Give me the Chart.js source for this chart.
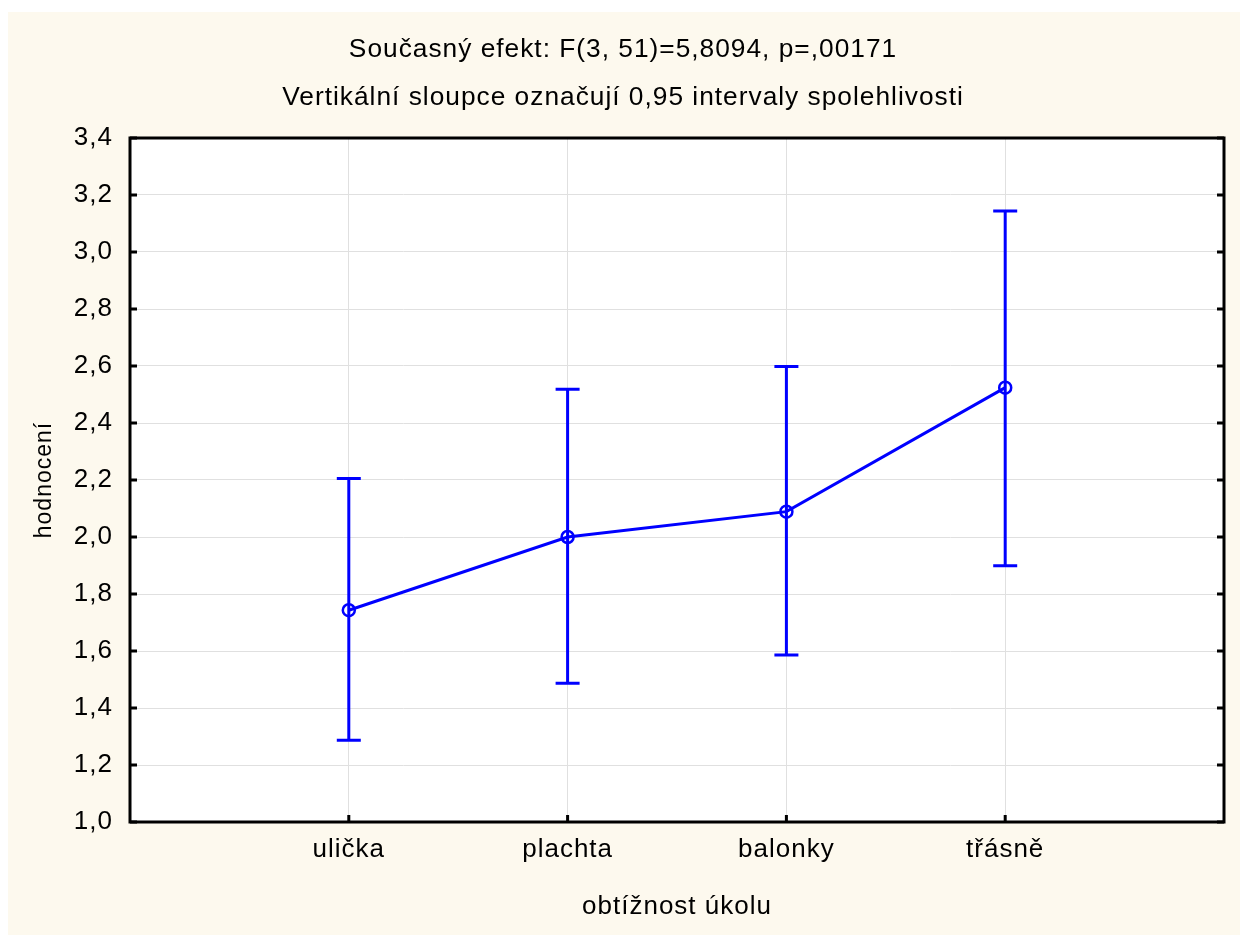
<!DOCTYPE html>
<html>
<head>
<meta charset="utf-8">
<script src="https://cdn.jsdelivr.net/npm/chart.js@4.4.1/dist/chart.umd.min.js"></script>
<style>
  html, body { margin: 0; padding: 0; background: #fff; overflow: hidden; }
  #wrap { width: 1246px; height: 936px; position: relative; }
</style>
</head>
<body>
<div id="wrap"><canvas id="chart"></canvas></div>
<script>
// Category labels and values
const categories = ['ulička', 'plachta', 'balonky', 'třásně'];
const categoryPos = [1, 2, 3, 4];
const means = [1.743, 2.0, 2.089, 2.524];
const ciLower = [1.287, 1.487, 1.586, 1.899];
const ciUpper = [2.205, 2.518, 2.598, 3.144];
const yTickValues = [1.0, 1.2, 1.4, 1.6, 1.8, 2.0, 2.2, 2.4, 2.6, 2.8, 3.0, 3.2, 3.4];

const titleLines = [
    'Současný efekt: F(3, 51)=5,8094, p=,00171',
    'Vertikální sloupce označují 0,95 intervaly spolehlivosti'
];

const BLUE = '#0000ff';
const CREAM = '#fdf9ee';
const SANS = "'Liberation Sans', Arial, sans-serif";

// background, error bars, frame and inward ticks
const decor = {
    id: 'decor',
    beforeUpdate(chart) { chart.ctx.letterSpacing = '1px'; },
    beforeLayout(chart) { chart.ctx.letterSpacing = '1px'; },
    beforeDraw(chart) {
        const { ctx, chartArea: a } = chart;
        ctx.letterSpacing = '1px';
        ctx.save();
        ctx.fillStyle = '#fff';
        ctx.fillRect(0, 0, chart.width, chart.height);
        ctx.fillStyle = CREAM;
        ctx.fillRect(8, 12, 1232, 923);
        ctx.fillStyle = '#fff';
        ctx.fillRect(a.left, a.top, a.right - a.left, a.bottom - a.top);
        ctx.restore();
    },
    afterDatasetsDraw(chart) {
        const { ctx } = chart;
        const xs = chart.scales.x, ys = chart.scales.y;
        ctx.save();
        ctx.strokeStyle = BLUE;
        ctx.lineWidth = 3;
        categoryPos.forEach((p, i) => {
            const x = xs.getPixelForValue(p);
            const top = ys.getPixelForValue(ciUpper[i]);
            const bot = ys.getPixelForValue(ciLower[i]);
            ctx.beginPath();
            ctx.moveTo(x, top); ctx.lineTo(x, bot);
            ctx.moveTo(x - 12, top); ctx.lineTo(x + 12, top);
            ctx.moveTo(x - 12, bot); ctx.lineTo(x + 12, bot);
            ctx.stroke();
        });
        ctx.restore();
    },
    afterDraw(chart) {
        const { ctx, chartArea: a } = chart;
        const xs = chart.scales.x, ys = chart.scales.y;
        ctx.save();
        ctx.strokeStyle = '#000';
        ctx.lineWidth = 3;
        ctx.strokeRect(a.left, a.top, a.right - a.left, a.bottom - a.top);
        ctx.beginPath();
        yTickValues.forEach(v => {
            const y = ys.getPixelForValue(v);
            ctx.moveTo(a.left, y); ctx.lineTo(a.left + 7, y);
            ctx.moveTo(a.right, y); ctx.lineTo(a.right - 7, y);
        });
        categoryPos.forEach(p => {
            const x = xs.getPixelForValue(p);
            ctx.moveTo(x, a.bottom); ctx.lineTo(x, a.bottom - 7);
        });
        ctx.stroke();
        ctx.restore();
    }
};

new Chart(document.getElementById('chart'), {
    type: 'scatter',
    data: {
        datasets: [{
            data: categoryPos.map((p, i) => ({ x: p, y: means[i] })),
            showLine: true,
            borderColor: BLUE,
            borderWidth: 3,
            pointRadius: 6,
            pointBorderWidth: 2.5,
            pointBorderColor: BLUE,
            pointBackgroundColor: 'rgba(0,0,0,0)',
            tension: 0
        }]
    },
    options: {
        responsive: true,
        maintainAspectRatio: false,
        animation: false,
        layout: { padding: { left: 22, right: 22, top: 0, bottom: 0 } },
        plugins: {
            legend: { display: false },
            tooltip: { enabled: false },
            title: {
                display: true,
                text: titleLines,
                color: '#000',
                font: { family: SANS, size: 26.3, weight: 'normal', lineHeight: 48 / 26.3 },
                padding: { top: 26, bottom: 16 }
            }
        },
        scales: {
            x: {
                type: 'linear',
                min: 0,
                max: 5,
                afterBuildTicks: scale => { scale.ticks = categoryPos.map(v => ({ value: v })); },
                afterFit: scale => { scale.height = 114; },
                grid: { color: '#e0e0e0', lineWidth: 1, drawTicks: false },
                border: { display: false },
                ticks: {
                    color: '#000',
                    padding: 12,
                    font: { family: SANS, size: 26 },
                    callback: v => categories[categoryPos.indexOf(v)] || ''
                },
                title: {
                    display: true,
                    text: 'obtížnost úkolu',
                    color: '#000',
                    font: { family: SANS, size: 26 },
                    padding: { top: 0, bottom: 14 }
                }
            },
            y: {
                min: 1.0,
                max: 3.4,
                afterBuildTicks: scale => { scale.ticks = yTickValues.map(v => ({ value: v })); },
                afterFit: scale => { scale.width = 108; },
                grid: { color: '#e0e0e0', lineWidth: 1, drawTicks: false },
                border: { display: false },
                ticks: {
                    color: '#000',
                    padding: 17,
                    font: { family: SANS, size: 26 },
                    callback: v => v.toFixed(1).replace('.', ',')
                },
                title: {
                    display: true,
                    text: 'hodnocení',
                    color: '#000',
                    font: { family: SANS, size: 23 },
                    padding: { top: 9, bottom: 0 }
                }
            }
        }
    },
    plugins: [decor]
});
</script>
</body>
</html>
